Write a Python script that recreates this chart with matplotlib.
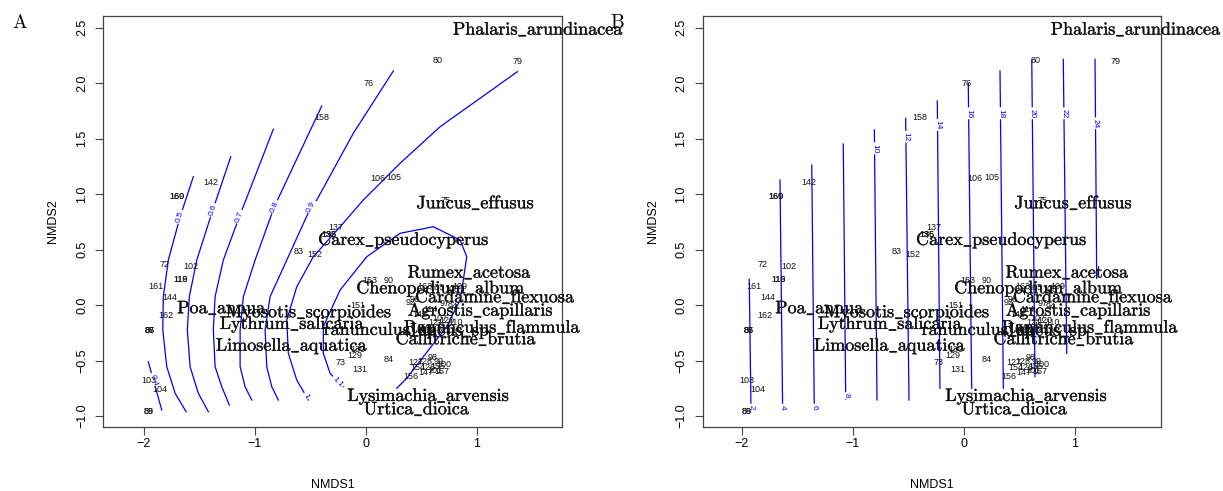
import numpy as np
import matplotlib
matplotlib.use('Agg')
import matplotlib.pyplot as plt
import matplotlib.patheffects as pe

plt.rcParams['mathtext.fontset'] = 'cm'

# site scores (NMDS1, NMDS2)
site_ids = ['80', '79', '76', '158', '142', '106', '105', '160', '169', '75',
            '137', '136', '135', '83', '152', '72', '102', '119', '116', '161',
            '144', '162', '86', '87', '85', '103', '104', '88', '89', '153',
            '90', '151', '73', '129', '130', '131', '84', '156',
            '163', '165', '109', '108', '96', '92', '97', '94', '114', '145',
            '107', '120', '121', '110', '117', '150', '146', '118',
            '127', '128', '98', '99', '100', '154', '126', '155', '101', '157', '147']
site_x = [0.645, 1.365, 0.027, -0.391, -1.392, 0.105, 0.249, -1.696, -1.696, 0.714,
          -0.267, -0.328, -0.328, -0.603, -0.456, -1.813, -1.572, -1.671, -1.671, -1.890,
          -1.761, -1.795, -1.941, -1.941, -1.941, -1.957, -1.851, -1.957, -1.957, 0.039,
          0.204, -0.075, -0.225, -0.096, -0.072, -0.057, 0.207, 0.408,
          0.534, 0.642, 0.849, 0.777, 0.444, 0.408, 0.714, 0.786, 0.579, 0.489,
          0.669, 0.732, 0.633, 0.804, 0.696, 0.525, 0.624, 0.561,
          0.453, 0.534, 0.606, 0.660, 0.705, 0.471, 0.561, 0.651, 0.624, 0.687, 0.543]
site_y = [2.207, 2.198, 1.997, 1.691, 1.102, 1.141, 1.147, 0.982, 0.982, 0.946,
          0.697, 0.631, 0.631, 0.486, 0.453, 0.366, 0.345, 0.234, 0.234, 0.171,
          0.066, -0.090, -0.231, -0.231, -0.231, -0.682, -0.757, -0.961, -0.961, 0.219,
          0.219, 0.000, -0.516, -0.457, -0.405, -0.577, -0.495, -0.640,
          0.171, 0.162, 0.171, 0.144, 0.054, 0.027, 0.018, -0.009, -0.036, -0.081,
          -0.117, -0.135, -0.153, -0.162, -0.189, -0.207, -0.225, -0.252,
          -0.514, -0.505, -0.477, -0.505, -0.532, -0.559, -0.559, -0.550, -0.586, -0.595, -0.604]

# species scores
species = ['Phalaris_arundinacea', 'Juncus_effusus', 'Carex_pseudocyperus',
           'Rumex_acetosa', 'Chenopodium_album', 'Cardamine_flexuosa',
           'Agrostis_capillaris', 'Ranunculus_flammula', 'ranunculus_sp',
           'Juncus_sp', 'Callitriche_brutia', 'Poa_annua', 'Myosotis_scorpioides',
           'Lythrum_salicaria', 'Limosella_aquatica', 'Lysimachia_arvensis',
           'Urtica_dioica']
species_x = [1.555, 0.990, 0.343, 0.936, 0.678, 1.167, 1.036, 1.141, 0.135,
             0.750, 0.906, -1.293, -0.510, -0.659, -0.663, 0.567, 0.463]
species_y = [2.480, 0.916, 0.586, 0.291, 0.150, 0.069, -0.051, -0.204, -0.225,
             -0.235, -0.309, -0.030, -0.066, -0.171, -0.367, -0.820, -0.940]

# panel A: ordisurf contour lines
a_levels = ['0.4', '0.5', '0.6', '0.7', '0.8', '0.9', '1', '1.1']
a_x = [
    [-1.957, -1.912, -1.836],
    [-1.552, -1.671, -1.777, -1.822, -1.827, -1.791, -1.716, -1.617],
    [-1.215, -1.377, -1.521, -1.588, -1.606, -1.581, -1.507, -1.417],
    [-0.832, -1.138, -1.282, -1.356, -1.372, -1.356, -1.296, -1.228],
    [-0.396, -0.823, -0.996, -1.102, -1.131, -1.131, -1.086, -1.026],
    [0.248, -0.112, -0.441, -0.492, -0.711, -0.861, -0.906, -0.891, -0.846, -0.787],
    [1.365, 0.669, 0.309, -0.022, -0.231, -0.472, -0.621, -0.711, -0.697, -0.621, -0.537, -0.517],
    [-0.202, -0.252, -0.321, -0.382, -0.382, -0.231, 0.009, 0.309, 0.608, 0.849,
     0.909, 0.878, 0.849, 0.729, 0.518, 0.369, 0.279],
]
a_y = [
    [-0.511, -0.676, -0.946],
    [1.156, 0.795, 0.405, 0.075, -0.225, -0.556, -0.795, -0.961],
    [1.336, 0.856, 0.405, 0.075, -0.225, -0.556, -0.795, -0.961],
    [1.583, 0.795, 0.405, 0.075, -0.225, -0.556, -0.736, -0.901],
    [1.793, 0.886, 0.405, 0.075, -0.225, -0.556, -0.736, -0.856],
    [2.108, 1.547, 0.946, 0.886, 0.405, 0.075, -0.225, -0.556, -0.736, -0.856],
    [2.102, 1.606, 1.277, 0.946, 0.705, 0.435, 0.165, -0.135, -0.435, -0.676, -0.820, -0.856],
    [-0.736, -0.691, -0.615, -0.435, -0.195, 0.135, 0.435, 0.646, 0.705, 0.586,
     0.435, 0.225, 0.045, -0.195, -0.466, -0.660, -0.750],
]
a_label_idx = [1, 1, 1, 1, 1, 3, 10, 1]

# panel B: nearly straight contours
b_levels = ['2', '4', '6', '8', '10', '12', '14', '16', '18', '20', '22', '24']
b_x_top = [-1.932, -1.655, -1.369, -1.085, -0.805, -0.523, -0.238, 0.041, 0.327, 0.613, 0.897, 1.183]
b_y_top = [0.232, 1.126, 1.261, 1.450, 1.577, 1.682, 1.838, 1.997, 2.108, 2.207, 2.213, 2.213]
b_x_bot = [-1.916, -1.631, -1.346, -1.063, -0.781, -0.493, -0.214, 0.072, 0.357, 0.642, 0.928, 1.198]
b_y_bot = [-0.950, -0.950, -0.950, -0.850, -0.856, -0.856, -0.750, -0.750, -0.750, -0.646, -0.435, 0.240]
b_label_y = [-0.922, -0.922, -0.922, -0.817, 1.412, 1.516, 1.622, 1.727, 1.727, 1.727, 1.727, 1.637]

sans = ['Liberation Sans', 'DejaVu Sans']
blue = '#0000ff'
bold_fx = [pe.withStroke(linewidth=0.25, foreground='#111111')]

fig = plt.figure(figsize=(12.23, 4.91), dpi=100)
axA = fig.add_axes([0.0845, 0.131, 0.3748, 0.8365])
axB = fig.add_axes([0.5746, 0.131, 0.3745, 0.8365])


def setup(ax, xlim):
    ax.set_xlim(*xlim)
    ax.set_ylim(-1.096, 2.604)
    ax.set_xticks([-2, -1, 0, 1])
    ax.set_xticklabels(['\u22122', '\u22121', '0', '1'], family=sans, fontsize=9)
    yt = [-1.0, -0.5, 0.0, 0.5, 1.0, 1.5, 2.0, 2.5]
    ax.set_yticks(yt)
    ax.set_yticklabels([('\u2212' if v < 0 else '') + '%.1f' % abs(v) for v in yt],
                       family=sans, fontsize=9, rotation=90, va='center')
    ax.tick_params(direction='out', length=6, width=0.8, color='#444444', pad=5)
    ax.tick_params(axis='x', pad=2)
    for s in ax.spines.values():
        s.set_color('#444444')
        s.set_linewidth(0.9)
    ax.set_xlabel('NMDS1', family=sans, fontsize=9, labelpad=21)
    ax.set_ylabel('NMDS2', family=sans, fontsize=9, labelpad=12)


def points_and_species(ax):
    for i, s in enumerate(site_ids):
        ax.text(site_x[i], site_y[i], s, fontsize=6.5, family=sans,
                ha='center', va='center', color='#111111', zorder=3)
    for i, s in enumerate(species):
        lab = r'$\mathrm{' + s.replace('_', r'\_') + '}$'
        ax.text(species_x[i], species_y[i], lab, fontsize=13,
                ha='center', va='center', color='#111111', zorder=4,
                clip_on=False, path_effects=bold_fx)


def line_label(ax, xs, ys, i, txt):
    j0 = max(i - 1, 0)
    j1 = min(i + 1, len(xs) - 1)
    p0 = ax.transData.transform((xs[j0], ys[j0]))
    p1 = ax.transData.transform((xs[j1], ys[j1]))
    ang = np.degrees(np.arctan2(p1[1] - p0[1], p1[0] - p0[0]))
    if ang > 90:
        ang -= 180
    elif ang <= -90:
        ang += 180
    ax.text(xs[i], ys[i], txt, rotation=ang, rotation_mode='anchor',
            ha='center', va='center', fontsize=6, color=blue, family=sans,
            bbox=dict(boxstyle='square,pad=0.15', fc='white', ec='none'), zorder=2)


setup(axA, (-2.362, 1.764))
for k, lev in enumerate(a_levels):
    axA.plot(a_x[k], a_y[k], color=blue, lw=0.9, zorder=1)
    line_label(axA, a_x[k], a_y[k], a_label_idx[k], lev)
points_and_species(axA)

setup(axB, (-2.351, 1.775))
for k, lev in enumerate(b_levels):
    xs = [b_x_bot[k], b_x_top[k]]
    ys = [b_y_bot[k], b_y_top[k]]
    axB.plot(xs, ys, color=blue, lw=0.9, zorder=1)
    t = (b_label_y[k] - b_y_bot[k]) / (b_y_top[k] - b_y_bot[k])
    lx = b_x_bot[k] + t * (b_x_top[k] - b_x_bot[k])
    line_label(axB, [b_x_bot[k], lx, b_x_top[k]], [b_y_bot[k], b_label_y[k], b_y_top[k]], 1, lev)
points_and_species(axB)

fig.text(0.01, 0.955, r'$\mathrm{A}$', fontsize=14, va='center')
fig.text(0.499, 0.955, r'$\mathrm{B}$', fontsize=14, va='center')

fig.savefig('out.png', dpi=100)
